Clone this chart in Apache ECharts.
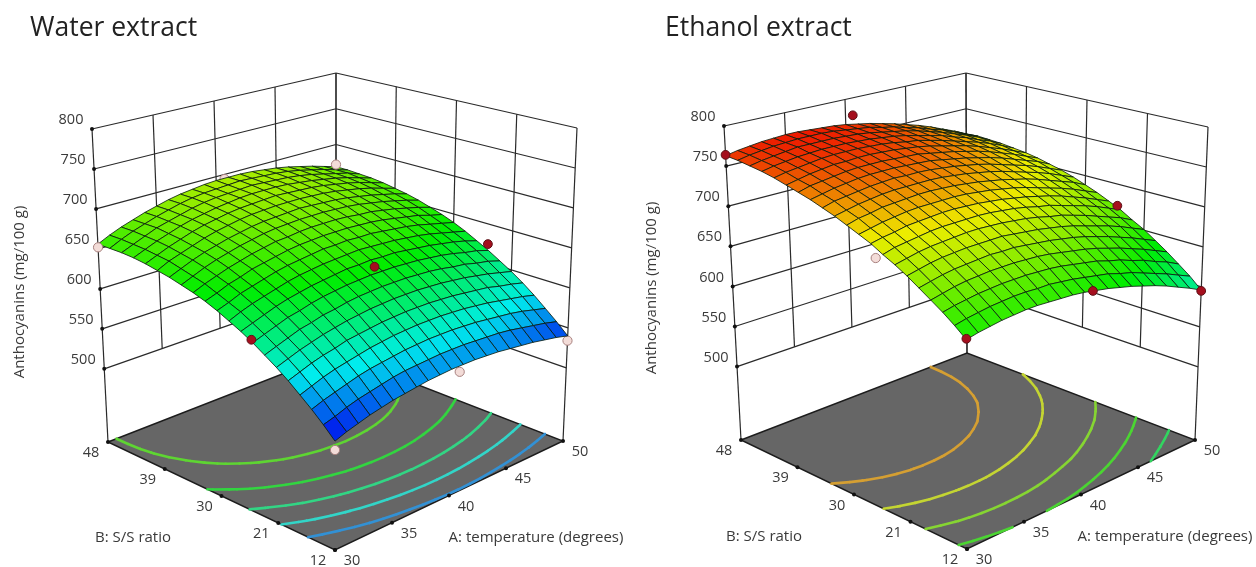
<!DOCTYPE html>
<html>
<head>
<meta charset="utf-8">
<style>html,body{margin:0;padding:0;background:#fff}#c{width:1256px;height:567px}</style>
<script src="https://cdn.jsdelivr.net/npm/echarts@6/dist/echarts.min.js"></script>
</head>
<body>
<div id="c"></div>
<script>
// ---- data ----
const temperature = [30,31,32,33,34,35,36,37,38,39,40,41,42,43,44,45,46,47,48,49,50];
const ratio = [48,46.2,44.4,42.6,40.8,39,37.2,35.4,33.6,31.8,30,28.2,26.4,24.6,22.8,21,19.2,17.4,15.6,13.8,12];
const temperatureTicks = [30,35,40,45,50];
const ratioTicks = [48,39,30,21,12];
const responseTicks = [500,550,600,650,700,750,800];
const panelTitles = ['Water extract','Ethanol extract'];
const responseTitle = 'Anthocyanins (mg/100 g)';
const temperatureTitle = 'A: temperature (degrees)';
const ratioTitle = 'B: S/S ratio';

const waterGrid = [
[656,663,669,674,679,683,687,690,692,694,695,695,695,694,692,690,687,683,679,674,669],
[656,663,669,674,679,683,687,690,692,693,694,695,694,693,692,690,687,683,679,674,669],
[656,662,668,674,678,682,686,689,691,692,693,694,693,692,691,689,686,682,678,674,668],
[655,661,667,672,677,681,684,687,689,691,692,692,692,691,689,687,684,681,677,672,667],
[653,659,665,670,675,679,682,685,687,688,689,690,689,688,687,685,682,679,675,670,665],
[650,657,662,667,672,676,679,682,684,685,686,686,686,685,684,682,679,676,672,667,662],
[647,653,659,664,668,672,675,678,680,681,682,683,682,681,680,678,675,672,668,664,659],
[643,649,655,660,664,668,671,674,676,677,678,678,678,677,676,674,671,668,664,660,655],
[639,645,650,655,659,663,666,669,670,672,673,673,673,672,670,669,666,663,659,655,650],
[634,639,645,649,654,657,660,663,665,666,667,667,667,666,665,663,660,657,654,649,645],
[628,633,639,643,647,651,654,656,658,660,660,661,660,660,658,656,654,651,647,643,639],
[621,627,632,636,640,644,647,649,651,652,653,654,653,652,651,649,647,644,640,636,632],
[614,619,624,629,633,636,639,641,643,645,645,646,645,645,643,641,639,636,633,629,624],
[606,611,616,621,624,628,631,633,635,636,637,637,637,636,635,633,631,628,624,621,616],
[597,602,607,612,615,619,621,624,626,627,628,628,628,627,626,624,621,619,615,612,607],
[588,593,598,602,606,609,612,614,616,617,618,618,618,617,616,614,612,609,606,602,598],
[578,583,588,592,595,599,601,603,605,606,607,607,607,606,605,603,601,599,595,592,588],
[567,572,577,581,584,587,590,592,594,595,596,596,596,595,594,592,590,587,584,581,577],
[556,561,565,569,573,576,578,580,582,583,584,584,584,583,582,580,578,576,573,569,565],
[544,548,553,557,560,563,566,568,569,570,571,571,571,570,569,568,566,563,560,557,553],
[531,536,540,544,547,550,552,554,556,557,558,558,558,557,556,554,552,550,547,544,540]
];
const ethanolGrid = [
[763,766,768,770,771,772,772,771,770,769,767,764,761,757,753,748,743,737,730,723,715],
[762,765,767,769,770,771,771,771,770,768,766,764,760,757,752,748,742,737,730,723,716],
[760,763,765,767,769,769,769,769,768,767,765,762,759,756,752,747,742,736,730,723,715],
[758,761,763,765,766,767,767,767,766,765,763,761,758,754,750,746,740,735,728,722,714],
[755,758,760,762,764,765,765,765,764,763,761,758,756,752,748,743,738,733,727,720,712],
[751,754,757,759,761,761,762,762,761,760,758,756,753,749,745,741,736,730,724,717,710],
[747,751,753,755,757,758,758,758,757,756,755,752,749,746,742,738,733,727,721,714,707],
[743,746,749,751,753,754,754,754,753,752,751,748,745,742,738,734,729,723,717,711,703],
[738,742,744,746,748,749,750,749,749,748,746,744,741,738,734,729,724,719,713,706,699],
[733,736,739,741,743,744,744,744,744,743,741,739,736,733,729,724,719,714,708,701,694],
[727,731,733,736,737,738,739,739,738,737,735,733,730,727,723,719,714,708,702,696,688],
[721,724,727,729,731,732,732,732,732,731,729,727,724,721,717,712,707,702,696,689,682],
[715,718,720,723,724,725,726,726,725,724,722,720,717,714,710,706,701,695,689,682,675],
[707,711,713,715,717,718,718,718,718,717,715,713,710,706,703,698,693,688,682,675,668],
[700,703,706,708,709,710,711,711,710,709,707,705,702,698,695,690,685,679,673,667,659],
[692,695,698,700,701,702,702,702,702,700,698,696,693,690,686,681,676,671,665,658,651],
[683,686,689,691,692,693,694,693,693,691,689,687,684,681,677,672,667,661,655,648,641],
[674,677,680,682,683,684,684,684,683,682,680,677,674,671,667,662,657,651,645,638,631],
[665,668,670,672,673,674,674,674,673,672,670,667,664,661,656,652,646,641,634,628,620],
[655,658,660,662,663,664,664,663,663,661,659,656,653,650,645,641,635,629,623,616,609],
[644,647,649,651,652,653,653,652,651,650,648,645,642,638,634,629,624,618,611,604,596]
];
const waterLevels = [560,585,610,635,661];
const ethanolLevels = [623,652,680,710,738];
// design points: [A, B, response]
const waterPointsBehind = [[40.7,48,694],[40.7,12,551],[30,12,521],[50,12,534]];
const waterPointsBehindKinds = ['p','p','p','p'];
const waterPointsFront = [[30,48,652],[50,48,672],[40,24,649],[50,24.7,624],[30,24.8,609]];
const waterPointsFrontKinds = ['p','p','r','r','r'];
const ethanolPointsBehind = [[40.6,48,777],[30,25.7,700]];
const ethanolPointsBehindKinds = ['r','p'];
const ethanolPointsFront = [[30,48,764],[50,25.1,672],[40.7,12,646],[50,12,595],[30,12,645]];
const ethanolPointsFrontKinds = ['r','r','r','r','r'];

// ---- view geometry of the two boxes (screen pixels of the 8 box corners) ----
const floorZ = 408.5, topZ = 800;
const boxes = [
 {top:{L:[92,129],K:[336,73],R:[577,128],F:[335,202]}, bot:{L:[108,442],K:[336,353],R:[563,441],F:[335,550]}},
 {top:{L:[724,126],K:[966,73],R:[1208,127],F:[966,201]}, bot:{L:[741,440],K:[967,353],R:[1195,440],F:[967,549]}}
];
function project(box,A,B,z){
  const t=(A-30)/20, v=(48-B)/36, w=(z-floorZ)/(topZ-floorZ);
  const bil=c=>[0,1].map(i=>(1-v)*((1-t)*c.L[i]+t*c.K[i])+v*((1-t)*c.F[i]+t*c.R[i]));
  const a=bil(box.bot), b=bil(box.top);
  return [a[0]+(b[0]-a[0])*w, a[1]+(b[1]-a[1])*w];
}
// colour scale
const colorZ = [532,580,640,718,778];
const colorRGB = [[0,0,255],[0,255,255],[0,255,0],[255,255,0],[255,0,0]];
function rgbAt(z){
  if(z<=colorZ[0]) return colorRGB[0];
  for(let i=1;i<colorZ.length;i++){ if(z<=colorZ[i]){ const f=(z-colorZ[i-1])/(colorZ[i]-colorZ[i-1]);
    return colorRGB[i].map((c,k)=>colorRGB[i-1][k]+(c-colorRGB[i-1][k])*f);} }
  return colorRGB[colorRGB.length-1];
}
const surfaceColor=z=>{const c=rgbAt(z).map(x=>Math.round(x*0.93));return `rgb(${c})`;};
const contourColor=z=>{const c=rgbAt(z).map(x=>Math.round(x*0.64+50));return `rgb(${c})`;};

// light binomial smoothing, so integer rounding of the readings does not kink the contours;
// beyond the edges the grid is continued linearly, which keeps border values unbiased
function smoothed(grid){
  const R=grid.length,C=grid[0].length,k=[1,2,1];
  const extC=(r,c)=>c<0?2*grid[r][0]-grid[r][-c]:c>=C?2*grid[r][C-1]-grid[r][2*C-2-c]:grid[r][c];
  const ext=(r,c)=>r<0?2*extC(0,c)-extC(-r,c):r>=R?2*extC(R-1,c)-extC(2*R-2-r,c):extC(r,c);
  return grid.map((row,r)=>row.map((_,c)=>{
    let s=0;
    for(let i=-1;i<=1;i++)for(let j=-1;j<=1;j++) s+=ext(r+i,c+j)*k[i+1]*k[j+1];
    return s/16;
  }));
}
// marching squares on the value grid
function contourSegments(grid,level){
  const segs=[];
  for(let r=0;r<grid.length-1;r++)for(let c=0;c<grid[0].length-1;c++){
    const p=[[c,r],[c+1,r],[c+1,r+1],[c,r+1]], val=p.map(q=>grid[q[1]][q[0]]+0.001);
    const cuts=[];
    for(let i=0;i<4;i++){const j=(i+1)%4;
      if((val[i]-level)*(val[j]-level)<0){const f=(level-val[i])/(val[j]-val[i]);
        const cc=p[i][0]+(p[j][0]-p[i][0])*f, rr=p[i][1]+(p[j][1]-p[i][1])*f;
        cuts.push([30+cc, 48-rr*1.8]);}
    }
    if(cuts.length>=2)segs.push([cuts[0][0],cuts[0][1],cuts[1][0],cuts[1][1],level]);
    if(cuts.length===4)segs.push([cuts[2][0],cuts[2][1],cuts[3][0],cuts[3][1],level]);
  }
  return segs;
}

const series=[];
const base={type:'custom',coordinateSystem:'cartesian2d',xAxisIndex:0,yAxisIndex:0,silent:true,animation:false,clip:false};
const textColor='#3a3a3a', font='"Open Sans","Noto Sans",sans-serif';
const pt=(api,box,A,B,z)=>api.coord(project(box,A,B,z));

function addPanel(box,grid,levels,behind,behindKinds,front,frontKinds,labelOffsets){
  // walls
  const walls=[];
  responseTicks.forEach(z=>{walls.push([30,48,z,50,48,z]);walls.push([50,48,z,50,12,z]);});
  temperatureTicks.forEach(a=>{const lo=(a===30||a===50)?floorZ:500;walls.push([a,48,lo,a,48,topZ]);});
  ratioTicks.forEach(b=>{const lo=(b===48||b===12)?floorZ:500;walls.push([50,b,lo,50,b,topZ]);});
  series.push({...base,z:1,data:walls,renderItem:(p,api)=>{
    const a=pt(api,box,api.value(0),api.value(1),api.value(2)),b=pt(api,box,api.value(3),api.value(4),api.value(5));
    return {type:'line',shape:{x1:a[0],y1:a[1],x2:b[0],y2:b[1]},style:{stroke:'#2a2a2a',lineWidth:1.2}};
  }});
  // floor
  series.push({...base,z:2,data:[[0]],renderItem:(p,api)=>({type:'polygon',
    shape:{points:[[30,48],[50,48],[50,12],[30,12]].map(q=>pt(api,box,q[0],q[1],floorZ))},
    style:{fill:'#666666',stroke:'#1c1c1c',lineWidth:1.4}})});
  // contours
  const segs=[];const sg=smoothed(grid);levels.forEach(l=>contourSegments(sg,l).forEach(s=>segs.push(s)));
  series.push({...base,z:3,data:segs,renderItem:(p,api)=>{
    const a=pt(api,box,api.value(0),api.value(1),floorZ),b=pt(api,box,api.value(2),api.value(3),floorZ);
    return {type:'line',shape:{x1:a[0],y1:a[1],x2:b[0],y2:b[1]},style:{stroke:contourColor(api.value(4)),lineWidth:2.6,lineCap:'round'}};
  }});
  // tick dots
  const dots=[];
  responseTicks.forEach(z=>dots.push([30,48,z]));
  ratioTicks.forEach(b=>dots.push([30,b,floorZ]));
  temperatureTicks.forEach(a=>dots.push([a,12,floorZ]));
  series.push({...base,z:4,data:dots,renderItem:(p,api)=>{
    const a=pt(api,box,api.value(0),api.value(1),api.value(2));
    return {type:'circle',shape:{cx:a[0],cy:a[1],r:2},style:{fill:'#111'}};
  }});
  const marker=(kinds)=>(p,api)=>{
    const a=pt(api,box,api.value(0),api.value(1),api.value(2)), k=kinds[p.dataIndex];
    return {type:'circle',shape:{cx:a[0],cy:a[1],r:k==='r'?4.4:4.6},
      style:k==='r'?{fill:'#a50f1e',stroke:'#5c1016',lineWidth:1}:{fill:'#f3dcd8',stroke:'#a98280',lineWidth:1}};
  };
  series.push({...base,z:5,data:behind,renderItem:marker(behindKinds)});
  // surface cells, painted from the back corner to the front corner
  const cells=[];
  for(let r=0;r<ratio.length-1;r++)for(let c=temperature.length-2;c>=0;c--)cells.push([r,c]);
  series.push({...base,z:6,data:cells,renderItem:(p,api)=>{
    const r=api.value(0),c=api.value(1);
    const idx=[[r,c],[r,c+1],[r+1,c+1],[r+1,c]];
    const zs=idx.map(q=>grid[q[0]][q[1]]);
    const mean=zs.reduce((s,x)=>s+x,0)/4;
    return {type:'polygon',shape:{points:idx.map((q,i)=>pt(api,box,temperature[q[1]],ratio[q[0]],zs[i]))},
      style:{fill:surfaceColor(mean),stroke:'rgba(8,28,14,0.82)',lineWidth:1}};
  }});
  series.push({...base,z:7,data:front,renderItem:marker(frontKinds)});
  // numeric tick labels
  const labels=[];
  responseTicks.forEach(z=>labels.push([30,48,z,-21,-9,String(z)]));
  ratioTicks.forEach(b=>labels.push([30,b,floorZ,-17,11,String(b)]));
  temperatureTicks.forEach(a=>labels.push([a,12,floorZ,17,11,String(a)]));
  series.push({...base,z:8,data:labels.map((l,i)=>[i]),renderItem:(p,api)=>{
    const l=labels[p.dataIndex],a=pt(api,box,l[0],l[1],l[2]);
    return {type:'text',style:{x:a[0]+l[3],y:a[1]+l[4],text:l[5],fill:textColor,font:'14.5px '+font,textAlign:'center',textVerticalAlign:'middle'}};
  }});
  // axis titles
  const titles=[[ratioTitle,labelOffsets.b,0],[temperatureTitle,labelOffsets.a,0],[responseTitle,labelOffsets.z,Math.PI/2]];
  series.push({...base,z:8,data:titles.map((l,i)=>[i]),renderItem:(p,api)=>{
    const l=titles[p.dataIndex],a=api.coord(l[1]);
    return {type:'text',x:a[0],y:a[1],rotation:l[2],style:{x:0,y:0,text:l[0],fill:textColor,font:'15px '+font,textAlign:'center',textVerticalAlign:'middle'}};
  }});
}
addPanel(boxes[0],waterGrid,waterLevels,waterPointsBehind,waterPointsBehindKinds,waterPointsFront,waterPointsFrontKinds,{b:[133,538],a:[536,538],z:[20,292]});
addPanel(boxes[1],ethanolGrid,ethanolLevels,ethanolPointsBehind,ethanolPointsBehindKinds,ethanolPointsFront,ethanolPointsFrontKinds,{b:[764,537],a:[1165,537],z:[652,288]});

const chart=echarts.init(document.getElementById('c'),null,{renderer:'canvas'});
chart.setOption({
  backgroundColor:'#fff',animation:false,
  title:[
    {text:panelTitles[0],left:25,top:10,textStyle:{fontFamily:font,fontWeight:'normal',fontSize:26.5,color:'#222'}},
    {text:panelTitles[1],left:660,top:10,textStyle:{fontFamily:font,fontWeight:'normal',fontSize:26.5,color:'#222'}}
  ],
  grid:{left:0,right:0,top:0,bottom:0},
  xAxis:{type:'value',min:0,max:1256,show:false},
  yAxis:{type:'value',min:0,max:567,inverse:true,show:false},
  tooltip:{show:false},
  series
});
</script>
</body>
</html>
